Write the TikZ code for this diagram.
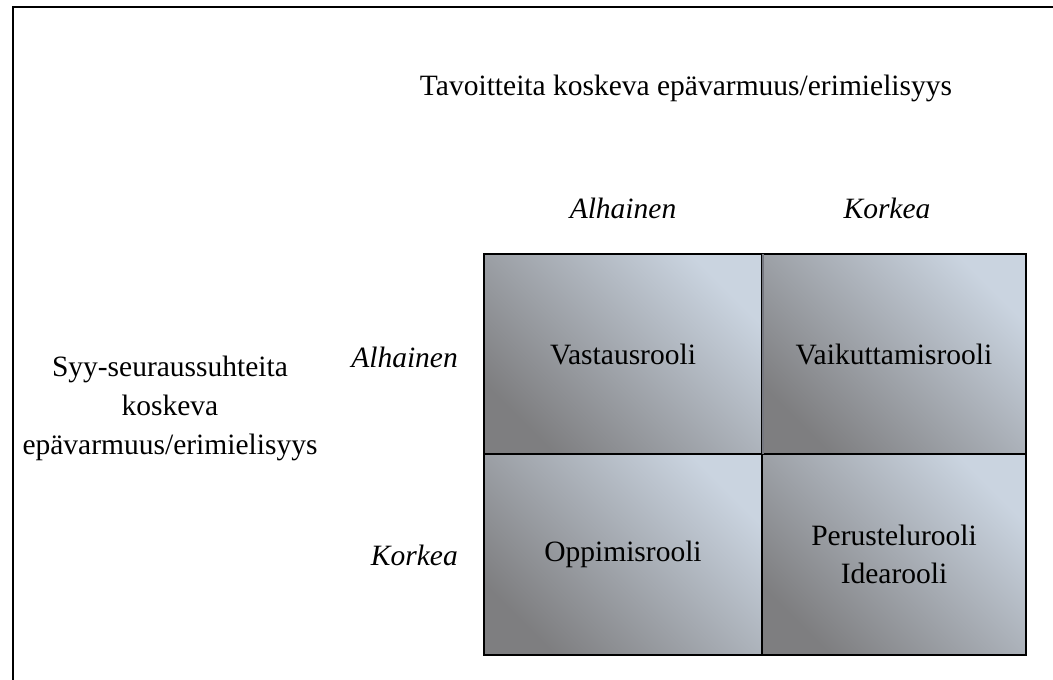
\documentclass[tikz,border=0pt]{standalone}
\usepackage{fontspec}
\setmainfont{Liberation Serif}
\usetikzlibrary{positioning}
\definecolor{celllight}{RGB}{202,212,224}
\definecolor{celldark}{RGB}{126,126,128}
\definecolor{dividergray}{RGB}{118,120,128}
\tikzset{
  txt/.style={font=\fontsize{29.5}{39}\selectfont, inner sep=0pt, anchor=base},
  hdr/.style={txt, font=\fontsize{29.5}{39}\selectfont\itshape},
  cell/.style={draw=black, line width=2pt, inner sep=0pt,
    shading=axis, top color=celllight, bottom color=celldark, shading angle=-45,
    align=center, font=\fontsize{29.5}{38}\selectfont},
}
\begin{document}
\begin{tikzpicture}[x=1pt,y=-1pt]
\useasboundingbox (0,0) rectangle (1053,680);
% frame lines along the top and left
\coordinate (fbl) at (13,680);
\coordinate (ftl) at (13,7);
\coordinate (ftr) at (1053,7);
\draw[line width=2.2pt] (fbl) -- (ftl) -- (ftr);

% title
\node[txt] (title) at (686,95) {Tavoitteita koskeva epävarmuus/erimielisyys};

% column headers
\node[hdr] (colLow) at (623,218) {Alhainen};
\node[hdr] (colHigh) at (887,218) {Korkea};

% row headers (right aligned)
\node[hdr, anchor=base east] (rowLow) at (458,367) {Alhainen};
\node[hdr, anchor=base east] (rowHigh) at (458,565) {Korkea};

% left label
\node[txt, align=center, anchor=center] (side) at (170,408)
  {Syy-seuraussuhteita\\koskeva\\epävarmuus/erimielisyys};

% matrix cells
\node[cell, minimum width=278pt, minimum height=200pt] (c11) at (623,354) {Vastausrooli};
\node[cell, minimum width=264pt, minimum height=200pt] (c12) at (894,354) {Vaikuttamisrooli};
\node[cell, minimum width=278pt, minimum height=201pt] (c21) at (623,554.5) {Oppimisrooli};
\node[cell, minimum width=264pt, minimum height=201pt] (c22) at (894,554.5) {Perustelurooli\\Idearooli};

% softer divider between the two upper cells
\draw[dividergray, line width=2.5pt] ([yshift=-1pt]c11.north east) -- ([yshift=1pt]c11.south east);
\end{tikzpicture}
\end{document}
